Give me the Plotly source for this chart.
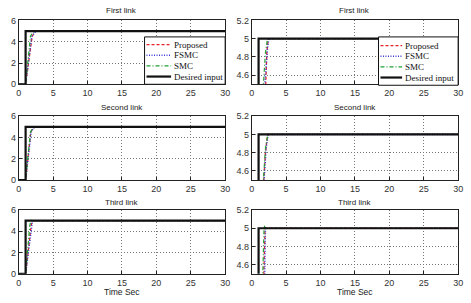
import plotly.graph_objects as go

W, H = 471, 303

# ---------------- data ----------------
links = ["First link", "Second link", "Third link"]
series_names = ["Proposed", "FSMC", "SMC", "Desired input"]

desired_t = [0, 1.0, 1.0, 30]
desired_y = [0, 0, 5, 5]

link1_proposed_t = [0, 1.0, 1.95, 2.2, 2.4, 30]
link1_proposed_y = [0, 0, 4.5, 4.85, 5, 5]
link1_fsmc_t = [0, 1.0, 1.9, 2.3, 2.5, 30]
link1_fsmc_y = [0, 0, 4.5, 4.9, 5, 5]
link1_smc_t = [0, 1.0, 1.7, 2.0, 2.3, 30]
link1_smc_y = [0, 0, 4.5, 4.85, 5, 5]

link2_proposed_t = [0, 1.0, 1.75, 2.0, 2.3, 30]
link2_proposed_y = [0, 0, 4.5, 4.8, 5, 5]
link2_fsmc_t = [0, 1.0, 1.8, 2.1, 2.4, 30]
link2_fsmc_y = [0, 0, 4.5, 4.85, 5, 5]
link2_smc_t = [0, 1.0, 1.7, 2.0, 2.35, 30]
link2_smc_y = [0, 0, 4.5, 4.85, 5, 5]

link3_proposed_t = [0, 1.0, 1.8, 1.95, 30]
link3_proposed_y = [0, 0, 4.5, 5, 5]
link3_fsmc_t = [0, 1.0, 1.9, 2.0, 30]
link3_fsmc_y = [0, 0, 4.5, 5, 5]
link3_smc_t = [0, 1.0, 1.6, 1.8, 2.0, 30]
link3_smc_y = [0, 0, 4.5, 5.03, 5, 5]

x_ticks = [0, 5, 10, 15, 20, 25, 30]
left_y_ticks = [0, 2, 4, 6]
right_y_ticks = [4.6, 4.8, 5, 5.2]
right_y_labels = ["4.6", "4.8", "5", "5.2"]
x_title = "Time Sec"

responses = [
    [(link1_proposed_t, link1_proposed_y), (link1_fsmc_t, link1_fsmc_y), (link1_smc_t, link1_smc_y)],
    [(link2_proposed_t, link2_proposed_y), (link2_fsmc_t, link2_fsmc_y), (link2_smc_t, link2_smc_y)],
    [(link3_proposed_t, link3_proposed_y), (link3_fsmc_t, link3_fsmc_y), (link3_smc_t, link3_smc_y)],
]

# ---------------- styles ----------------
styles = [
    dict(color="#e8202a", dash="3px,2px", width=1.3),
    dict(color="#3b3bd6", dash="1px,1.5px", width=1.5),
    dict(color="#22a032", dash="4px,2px,1px,2px", width=1.2),
    dict(color="#111111", dash="solid", width=2.2),
]

def px_x(p):
    return p / W

def px_y(p):
    return 1 - p / H

col_dom = [(px_x(16), px_x(226)), (px_x(253), px_x(463))]
row_px = [(16, 82), (115, 181), (212, 278)]
row_dom = [(px_y(b), px_y(t)) for t, b in row_px]

fig = go.Figure()
tick_font = dict(family="Liberation Sans, Arial, sans-serif", size=9, color="#333333")

ax_n = 0
for r in range(3):
    for c in range(2):
        ax_n += 1
        xa = "x" if ax_n == 1 else f"x{ax_n}"
        ya = "y" if ax_n == 1 else f"y{ax_n}"
        xk = "xaxis" if ax_n == 1 else f"xaxis{ax_n}"
        yk = "yaxis" if ax_n == 1 else f"yaxis{ax_n}"
        for i, (tt, yy) in enumerate(responses[r]):
            fig.add_trace(go.Scatter(x=tt, y=yy, mode="lines", name=series_names[i],
                                     line=styles[i], xaxis=xa, yaxis=ya, showlegend=False))
        fig.add_trace(go.Scatter(x=desired_t, y=desired_y, mode="lines", name=series_names[3],
                                 line=styles[3], xaxis=xa, yaxis=ya, showlegend=False))
        common = dict(showline=True, mirror=True, linecolor="#222222", linewidth=1,
                      showgrid=True, gridcolor="#777777", griddash="1px,2px", gridwidth=1,
                      zeroline=False, ticks="inside", ticklen=3, tickcolor="#222222",
                      tickfont=tick_font)
        fig.layout[xk] = dict(domain=col_dom[c], anchor=ya, range=[0, 30],
                              tickvals=x_ticks, **common)
        if c == 0:
            fig.layout[yk] = dict(domain=row_dom[r], anchor=xa, range=[0, 6],
                                  tickvals=left_y_ticks, **common)
        else:
            fig.layout[yk] = dict(domain=row_dom[r], anchor=xa, range=[4.5, 5.2],
                                  tickvals=right_y_ticks, ticktext=right_y_labels, **common)

# subplot titles
title_y = [6, 106, 204]
for r in range(3):
    for c in range(2):
        fig.add_annotation(text=links[r], xref="paper", yref="paper",
                           x=(col_dom[c][0] + col_dom[c][1]) / 2, y=px_y(title_y[r]),
                           xanchor="center", yanchor="middle",
                           showarrow=False, font=dict(family="Liberation Sans, Arial, sans-serif",
                                                       size=8, color="#222222"))
# x axis titles
for c in range(2):
    fig.add_annotation(text=x_title, xref="paper", yref="paper",
                       x=(col_dom[c][0] + col_dom[c][1]) / 2, y=px_y(297),
                       xanchor="center", yanchor="middle",
                       showarrow=False, font=dict(family="Liberation Sans, Arial, sans-serif",
                                                   size=8.5, color="#222222"))

# legends (drawn as boxes with line samples and labels)
legend_boxes = [
    dict(x0=144, x1=226, y0=33, y1=82, lx0=146, lx1=171, tx=172, rows=[41, 52, 63, 74]),
    dict(x0=382, x1=463, y0=33, y1=83, lx0=384, lx1=406, tx=407, rows=[42, 53, 64, 75]),
]
for lb in legend_boxes:
    fig.add_shape(type="rect", xref="paper", yref="paper",
                  x0=px_x(lb["x0"]), x1=px_x(lb["x1"]), y0=px_y(lb["y1"]), y1=px_y(lb["y0"]),
                  line=dict(color="#111111", width=1), fillcolor="white", layer="above")
    for i, name in enumerate(series_names):
        yy = px_y(lb["rows"][i])
        fig.add_shape(type="line", xref="paper", yref="paper",
                      x0=px_x(lb["lx0"]), x1=px_x(lb["lx1"]), y0=yy, y1=yy,
                      line=styles[i], layer="above")
        fig.add_annotation(text=name, xref="paper", yref="paper", x=px_x(lb["tx"]), y=yy,
                           xanchor="left", yanchor="middle", showarrow=False,
                           font=dict(family="Liberation Serif, Times New Roman, serif",
                                     size=9, color="#111111"))

fig.update_layout(
    width=W, height=H, margin=dict(l=0, r=0, t=0, b=0),
    paper_bgcolor="white", plot_bgcolor="white", showlegend=False,
)

fig.write_html("out.html", config={"displayModeBar": False},
               post_script="document.body.style.margin='0';document.body.style.overflow='hidden';")
